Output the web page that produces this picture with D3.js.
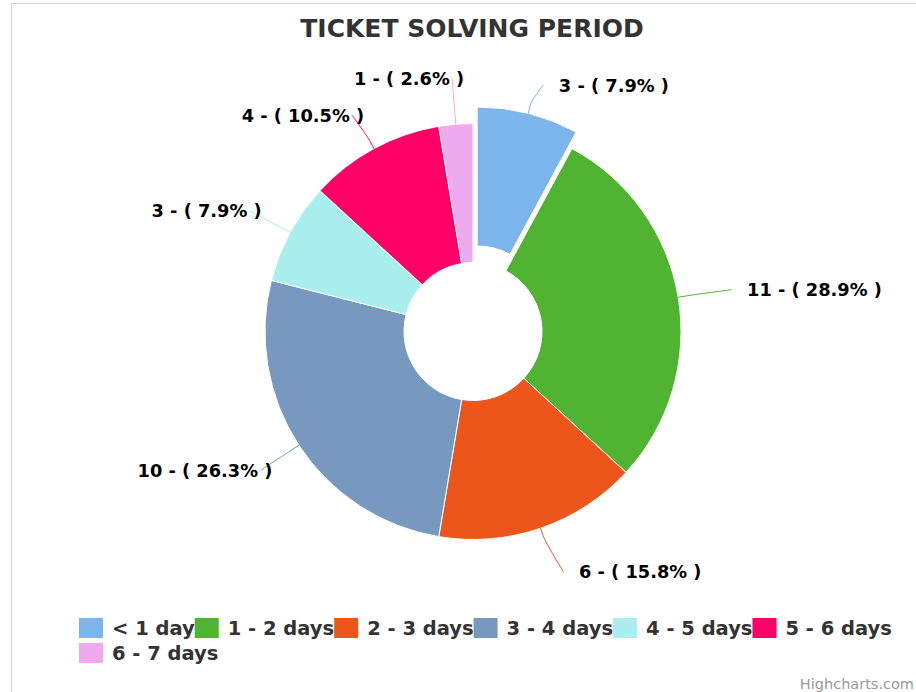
<!DOCTYPE html>
<html>
<head>
<meta charset="utf-8">
<script src="https://cdn.jsdelivr.net/npm/d3@7/dist/d3.min.js"></script>
<style>
  body { margin: 0; background: #fff; }
  text { font-family: "DejaVu Sans", sans-serif; }
</style>
</head>
<body>
<div id="chart"></div>
<script>
// ticket counts per solving period
var categories = ["< 1 day", "1 - 2 days", "2 - 3 days", "3 - 4 days", "4 - 5 days", "5 - 6 days", "6 - 7 days"];
var counts = [3, 11, 6, 10, 3, 4, 1];
var colors = ["#7cb5ec", "#50b432", "#ed561b", "#7798bf", "#aaeeee", "#ff0066", "#eeaaee"];
var sliced = ["< 1 day"];

var W = 916, H = 692;
var cx = 473, cy = 331.5, R = 208, r0 = 69;
var slicedOffset = 17, labelDist = 46, breakDist = 8, minGap = 37;

var svg = d3.select("#chart").append("svg")
    .attr("width", W)
    .attr("height", H);

// container border (right/bottom run off the page)
svg.append("rect")
    .attr("x", 11.5).attr("y", 3.5)
    .attr("width", 930).attr("height", 710)
    .attr("fill", "#fff")
    .attr("stroke", "#d4d4d4");

svg.append("text")
    .text("TICKET SOLVING PERIOD")
    .attr("x", 472).attr("y", 37)
    .attr("text-anchor", "middle")
    .style("font-size", "25px")
    .style("font-weight", "bold")
    .attr("fill", "#333");

var total = d3.sum(counts);
var pie = d3.pie().sort(null).value(function(d){ return d; });
var arcs = pie(counts);
var arc = d3.arc().innerRadius(r0).outerRadius(R);

var g = svg.append("g").attr("transform", "translate(" + cx + "," + cy + ")");

arcs.forEach(function(a, i){
    var mid = (a.startAngle + a.endAngle) / 2;
    var off = sliced.indexOf(categories[i]) >= 0 ? slicedOffset : 0;
    a.i = i;
    a.mid = mid;
    a.s = Math.sin(mid);
    a.c = -Math.cos(mid);
    a.right = a.s >= 0;
    a.ox = a.s * off;
    a.oy = a.c * off;
    a.lx = a.s * (R + labelDist);
    a.ly = a.c * (R + labelDist);
});

// push overlapping labels down, each side separately
[true, false].forEach(function(side){
    var list = arcs.filter(function(a){ return a.right === side; })
        .sort(function(a, b){ return a.ly - b.ly; });
    for (var k = 1; k < list.length; k++) {
        if (list[k].ly < list[k - 1].ly + minGap) list[k].ly = list[k - 1].ly + minGap;
    }
});

g.selectAll("path.slice")
    .data(arcs)
    .enter().append("path")
    .attr("class", "slice")
    .attr("d", arc)
    .attr("transform", function(d){ return "translate(" + d.ox + "," + d.oy + ")"; })
    .attr("fill", function(d, i){ return colors[i]; })
    .attr("stroke", "#fff")
    .attr("stroke-width", 1);

// data labels with soft connectors
arcs.forEach(function(a, i){
    var tx = a.ox + a.s * R, ty = a.oy + a.c * R;
    var bx = a.ox + a.s * (R + breakDist), by = a.oy + a.c * (R + breakDist);
    var ex = a.right ? a.lx + 8 : a.lx, ly = a.ly;

    g.append("path")
        .attr("d", "M" + ex + "," + ly +
            " C" + ex + "," + ly + " " + (2 * bx - tx) + "," + (2 * by - ty) + " " + bx + "," + by +
            " L" + tx + "," + ty)
        .attr("fill", "none")
        .attr("stroke", colors[i])
        .attr("stroke-width", 1);

    var pct = (counts[i] / total * 100).toFixed(1);
    g.append("text")
        .text(counts[i] + " - ( " + pct + "% )")
        .attr("x", a.right ? a.lx + 23.5 : a.lx + 12)
        .attr("y", ly)
        .attr("dy", "0.36em")
        .attr("text-anchor", a.right ? "start" : "end")
        .style("font-size", "17.8px")
        .style("font-weight", "bold")
        .attr("fill", "#000");
});

// legend
var legend = svg.append("g");
var lx0 = 79, x = lx0, y = 618, rowH = 25;
categories.forEach(function(name, i){
    var item = legend.append("g");
    var t = item.append("text")
        .text(name)
        .attr("x", 33).attr("y", 17)
        .style("font-size", "19.5px")
        .style("font-weight", "bold")
        .attr("fill", "#333");
    var w = 33 + t.node().getComputedTextLength();
    if (x + w > 912 && x > lx0) { x = lx0; y += rowH; }
    item.insert("rect", "text")
        .attr("width", 24).attr("height", 20)
        .attr("fill", colors[i]);
    item.attr("transform", "translate(" + x + "," + y + ")");
    x += w;
});

svg.append("text")
    .text("Highcharts.com")
    .attr("x", 914).attr("y", 689)
    .attr("text-anchor", "end")
    .style("font-size", "14.5px")
    .attr("fill", "#999");
</script>
</body>
</html>
